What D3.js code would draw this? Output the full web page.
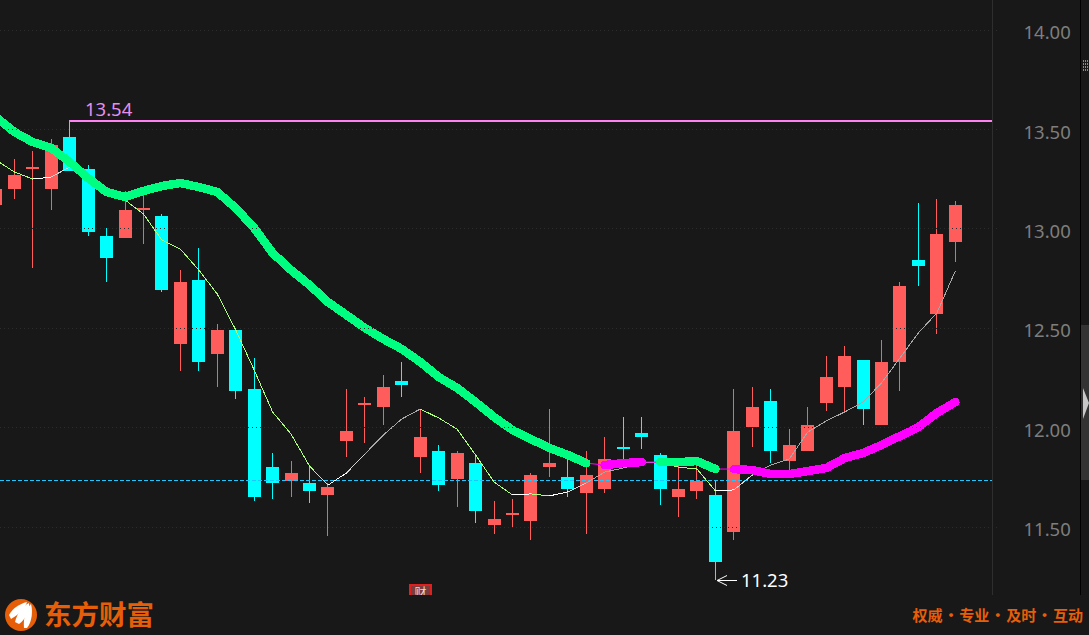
<!DOCTYPE html>
<html>
<head>
<meta charset="utf-8">
<script src="https://cdn.jsdelivr.net/npm/d3@7"></script>
<style>
    html, body { margin: 0; padding: 0; background: #181818; overflow: hidden; }
    svg { display: block; }
</style>
</head>
<body>
<div id="my_dataviz"></div>
<script>

// daily candles, first one is cut off by the left edge
const open_px  = [13.12,13.20,13.30,13.20,13.46,13.30,12.96,12.95,13.09,13.06,12.42,12.74,12.37,12.49,12.19,11.80,11.73,11.72,11.66,11.93,12.12,12.10,12.23,11.85,11.88,11.74,11.82,11.51,11.57,11.53,11.80,11.75,11.67,11.69,11.90,11.97,11.86,11.65,11.68,11.66,11.47,12.00,12.13,11.83,11.88,12.12,12.20,12.34,12.01,12.33,12.84,12.57,12.93];
const close_px = [13.20,13.27,13.31,13.42,13.29,12.98,12.85,13.09,13.10,12.69,12.73,12.33,12.49,12.18,11.65,11.72,11.77,11.68,11.70,11.98,12.12,12.20,12.21,11.95,11.71,11.87,11.58,11.54,11.57,11.76,11.82,11.69,11.76,11.84,11.89,11.95,11.69,11.69,11.73,11.32,11.98,12.10,11.88,11.91,12.01,12.25,12.36,12.09,12.33,12.71,12.81,12.97,13.12];
const high_px  = [13.25,13.35,13.39,13.45,13.54,13.32,13.00,13.19,13.21,13.07,12.79,12.90,12.52,12.49,12.35,11.87,11.83,11.80,11.72,12.19,12.15,12.26,12.33,12.09,11.91,11.88,11.86,11.63,11.64,11.77,12.09,11.84,11.88,11.95,12.05,12.05,11.87,11.82,11.83,11.73,12.19,12.20,12.19,11.99,12.10,12.36,12.41,12.34,12.44,12.73,13.13,13.15,13.14];
const low_px   = [13.08,13.15,12.80,13.09,13.29,12.96,12.73,12.95,12.92,12.68,12.28,12.28,12.20,12.14,11.63,11.64,11.65,11.62,11.45,11.85,11.92,12.01,12.15,11.77,11.68,11.60,11.52,11.46,11.50,11.43,11.75,11.65,11.46,11.67,11.84,11.89,11.61,11.55,11.64,11.23,11.43,11.90,11.82,11.78,11.88,12.08,12.08,12.01,12.01,12.18,12.71,12.47,12.83];

// short moving average (thin line)
const ma_short = [13.344,13.284,13.248,13.258,13.309,13.253,13.193,13.143,13.072,12.941,12.896,12.790,12.670,12.489,12.287,12.076,11.965,11.804,11.708,11.769,11.865,11.960,12.041,12.091,12.046,11.990,11.860,11.724,11.659,11.664,11.654,11.674,11.719,11.774,11.794,11.819,11.824,11.799,11.789,11.679,11.684,11.759,11.809,11.839,11.975,12.031,12.076,12.126,12.222,12.348,12.474,12.574,12.785];

// long moving average (thick line) and its trend runs, as [first, last, trend]
const ma_long = [13.560,13.485,13.434,13.404,13.334,13.253,13.183,13.158,13.188,13.213,13.228,13.208,13.183,13.102,13.002,12.876,12.790,12.715,12.629,12.564,12.499,12.443,12.393,12.328,12.252,12.197,12.126,12.051,11.985,11.940,11.895,11.860,11.819,11.809,11.819,11.824,11.824,11.824,11.829,11.789,11.789,11.784,11.764,11.764,11.779,11.794,11.844,11.870,11.910,11.955,12.000,12.071,12.126];
const long_runs = [[0,32,"down"],[33,35,"up"],[36,39,"down"],[40,52,"up"]];

const tick_labels = [11.5,12,12.5,13,13.5,14];
const max_price = 13.54;
const min_price = 11.23;
const last_close = 11.73;

const width = 1089, height = 635;

let svg = d3.select("#my_dataviz")
            .append("svg")
            .attr("width", width)
            .attr("height", height)
            .style("background", "#181818");

let x = d3.scaleLinear().domain([0, 52]).range([-4.15, 955.3]);
let y = d3.scaleLinear().domain([11.5, 14]).range([526.5, 29.6]);

const zh = "'Noto Sans CJK SC', sans-serif";
const num = "'Noto Sans', sans-serif";
const red = "#ff5c5c", cyan = "#00ffff";

// clip everything in the plot to the left of the axis / above the footer
svg.append("defs").append("clipPath").attr("id", "plot_clip")
    .append("rect").attr("width", 992).attr("height", 595);
let plot = svg.append("g").attr("clip-path", "url(#plot_clip)");

// dotted horizontal grid
svg.append("g").selectAll("line")
    .data(tick_labels)
    .enter().append("line")
    .attr("x1", 0).attr("x2", 998)
    .attr("y1", d => Math.round(y(d)) + 0.5)
    .attr("y2", d => Math.round(y(d)) + 0.5)
    .attr("stroke", "#2c2c2c")
    .attr("stroke-dasharray", "1,3");

// candles
let candles = plot.append("g").attr("shape-rendering", "crispEdges")
    .selectAll("g")
    .data(open_px)
    .enter().append("g");

candles.append("rect")
    .attr("x", (d, i) => Math.floor(x(i)))
    .attr("width", 1)
    .attr("y", (d, i) => Math.round(y(high_px[i])))
    .attr("height", (d, i) => Math.round(y(low_px[i])) - Math.round(y(high_px[i])))
    .attr("fill", (d, i) => close_px[i] >= d ? red : cyan);

candles.append("rect")
    .attr("x", (d, i) => Math.floor(x(i)) - 6)
    .attr("width", 13)
    .attr("y", (d, i) => Math.round(y(Math.max(d, close_px[i]))))
    .attr("height", (d, i) => Math.max(2, Math.round(y(Math.min(d, close_px[i]))) - Math.round(y(Math.max(d, close_px[i])))))
    .attr("fill", (d, i) => close_px[i] >= d ? red : cyan);

// dashed line of the last close
plot.append("line")
    .attr("x1", 0).attr("x2", 992)
    .attr("y1", Math.floor(y(last_close)) + 0.5)
    .attr("y2", Math.floor(y(last_close)) + 0.5)
    .attr("stroke", "#1ec8ff")
    .attr("shape-rendering", "crispEdges")
    .attr("stroke-dasharray", "4,2");

// 13.54 high line
plot.append("rect")
    .attr("x", Math.floor(x(4)))
    .attr("y", Math.round(y(max_price)) - 1)
    .attr("width", 992 - Math.floor(x(4)))
    .attr("height", 2)
    .attr("fill", "#ff82f2");

svg.append("text")
    .attr("x", 85).attr("y", 116)
    .attr("font-family", num).attr("font-size", 18.5)
    .attr("fill", "#e58ef0")
    .text(max_price.toFixed(2));

// thin average, one piece per day: green going down, white fading to grey going up
let line = d3.line().x(d => x(d[0])).y(d => y(d[1]));
let rising = 0;
let thin = plot.append("g").attr("fill", "none").attr("stroke-width", 1).attr("shape-rendering", "crispEdges");
ma_short.forEach((d, i) => {
    if (i == 0) return;
    let col = "#adff7a";
    if (d > ma_short[i - 1]) {
        col = d3.interpolateRgb("#ffffff", "#a8a8a8")(Math.min(rising / 2, 1));
        rising++;
    } else {
        rising = 0;
    }
    thin.append("path")
        .attr("d", line([[i - 1, ma_short[i - 1]], [i, d]]))
        .attr("stroke", col);
});

// thick average
let thick = plot.append("g").attr("fill", "none");
long_runs.forEach((r, k) => {
    if (k > 0) {
        let prev = long_runs[k - 1][1];
        thick.append("path")
            .attr("d", line([[prev, ma_long[prev]], [r[0], ma_long[r[0]]]]))
            .attr("stroke", "#ff00ff")
            .attr("stroke-width", 1);
    }
});
long_runs.forEach(r => {
    let pts = d3.range(r[0], r[1] + 1).map(i => [i, ma_long[i]]);
    thick.append("path")
        .attr("d", line(pts))
        .attr("stroke", r[2] == "down" ? "#00ff80" : "#ff00ff")
        .attr("stroke-width", 8.5)
        .attr("stroke-linecap", "round")
        .attr("stroke-linejoin", "round")
        .attr("shape-rendering", "crispEdges");
});

// low marker
let low_x = Math.floor(x(39));
let low_y = Math.round(y(min_price)) + 0.5;
svg.append("path")
    .attr("d", `M${low_x + 22},${low_y}H${low_x + 2}M${low_x + 12},${low_y - 5}L${low_x + 2},${low_y}L${low_x + 12},${low_y + 5}`)
    .attr("fill", "none")
    .attr("stroke", "#ffffff");
svg.append("text")
    .attr("x", 741).attr("y", low_y + 6)
    .attr("font-family", num).attr("font-size", 18.5)
    .attr("fill", "#ffffff")
    .text(min_price.toFixed(2));

// right axis
let axis = svg.append("g")
    .attr("transform", "translate(992.5,0)")
    .call(d3.axisRight(y).tickValues(tick_labels).tickFormat(d3.format(".2f")).tickSize(0).tickPadding(31));
axis.select(".domain").remove();
axis.selectAll("text")
    .attr("font-family", num)
    .attr("font-size", 18.5)
    .attr("dy", "0.5em")
    .attr("fill", "#7e7e7e");

// frame lines
svg.append("line").attr("x1", 992.5).attr("x2", 992.5).attr("y1", 0).attr("y2", 595).attr("stroke", "#2e2e2e");
svg.append("line").attr("x1", 1080.5).attr("x2", 1080.5).attr("y1", 0).attr("y2", 595).attr("stroke", "#000");

// grip dots and collapse handle on the right strip
svg.append("g").attr("shape-rendering", "crispEdges").selectAll("rect")
    .data(d3.cross(d3.range(3), d3.range(4)))
    .enter().append("rect")
    .attr("x", d => 1083 + d[0] * 2)
    .attr("y", d => 60 + d[1] * 3)
    .attr("width", 1).attr("height", 2)
    .attr("fill", "#8a8a8a");
svg.append("rect").attr("x", 1081).attr("y", 325).attr("width", 8).attr("height", 155).attr("fill", "#333333");
svg.append("path").attr("d", "M1083,388L1089,403L1083,419Z").attr("fill", "#c8c8c8");

// small red news flag under the candles, cut by the footer
svg.append("clipPath").attr("id", "flag_clip")
    .append("rect").attr("x", 409).attr("y", 584).attr("width", 23).attr("height", 11);
let flag = svg.append("g").attr("clip-path", "url(#flag_clip)");
flag.append("rect").attr("x", 409).attr("y", 584).attr("width", 23).attr("height", 11).attr("fill", "#e01f1f");
flag.append("rect").attr("x", 411).attr("y", 586).attr("width", 19).attr("height", 9).attr("fill", "#7a3c3c");
flag.append("text")
    .attr("x", 420.5).attr("y", 597)
    .attr("text-anchor", "middle")
    .attr("font-family", zh).attr("font-size", 12)
    .attr("fill", "#e8d8d8")
    .text("财");

// footer logo
let logo = svg.append("g");
logo.append("circle").attr("cx", 21).attr("cy", 615).attr("r", 16).attr("fill", "#e65f08");
logo.append("path").attr("d", "M9,615C13,608 19,604 27,602C25,608 20,614 11,619Z").attr("fill", "#fff");
logo.append("path").attr("d", "M15,622C17,613 23,606 29,603C30,610 26,619 19,624Z").attr("fill", "#fff");
logo.append("path").attr("d", "M24,628C23,618 26,609 31,604C33,611 32,622 27,628Z").attr("fill", "#fff");

svg.append("text")
    .attr("x", 44).attr("y", 625)
    .attr("font-family", zh).attr("font-size", 27.5).attr("font-weight", 700)
    .attr("fill", "#e65f08")
    .text("东方财富");

svg.append("text")
    .attr("x", 1083).attr("y", 620.5)
    .attr("text-anchor", "end")
    .attr("word-spacing", "-2.5")
    .attr("font-family", zh).attr("font-size", 15).attr("font-weight", 700)
    .attr("fill", "#e65f08")
    .text("权威 · 专业 · 及时 · 互动");

</script>
</body>
</html>
